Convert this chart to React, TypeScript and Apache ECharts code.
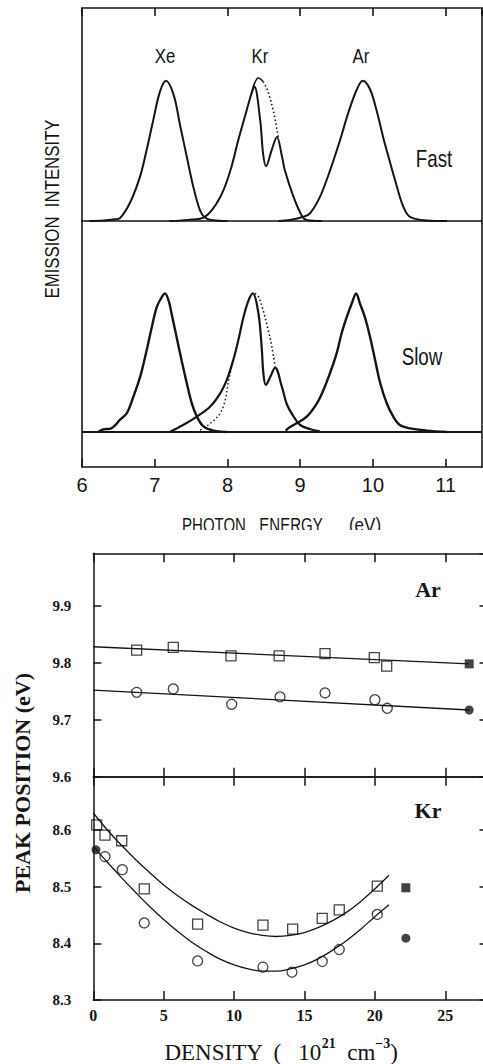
import React, { useEffect, useRef } from 'react';
import * as echarts from 'echarts';

// ---------------- Top panel data: emission spectra (photon energy eV, normalised intensity) ----------------
const energyRange = [6, 11.5];

const fastXe = [[6.1, 0], [6.3, 0.004], [6.45, 0.012], [6.52, 0.02], [6.66, 0.13], [6.8, 0.32], [6.89, 0.51], [6.98, 0.72], [7.07, 0.92], [7.155, 1.0], [7.26, 0.9], [7.35, 0.68], [7.44, 0.46], [7.53, 0.245], [7.62, 0.08], [7.69, 0.025], [7.8, 0.006], [8.0, 0]];
const fastKr = [[7.2, 0], [7.45, 0.008], [7.69, 0.03], [7.9, 0.17], [8.04, 0.36], [8.15, 0.58], [8.24, 0.745], [8.33, 0.91], [8.37, 0.96], [8.45, 0.72], [8.49, 0.48], [8.53, 0.39], [8.61, 0.51], [8.68, 0.6], [8.75, 0.46], [8.79, 0.36], [8.91, 0.17], [9.02, 0.04], [9.09, 0.007], [9.3, 0]];
const fastKrEnvelopeTop = [[8.33, 0.91], [8.37, 0.98], [8.425, 1.02], [8.49, 0.995]];
const fastKrEnvelopeDotted = [[8.49, 0.995], [8.537, 0.95], [8.583, 0.88], [8.62, 0.81], [8.657, 0.72], [8.684, 0.64], [8.7, 0.6]];
const fastAr = [[8.7, 0], [8.86, 0.007], [9.044, 0.03], [9.135, 0.055], [9.27, 0.17], [9.41, 0.36], [9.55, 0.58], [9.66, 0.77], [9.78, 0.94], [9.86, 1.0], [9.96, 0.94], [10.05, 0.79], [10.14, 0.6], [10.24, 0.41], [10.33, 0.245], [10.42, 0.1], [10.51, 0.03], [10.74, 0.004], [11.02, 0]];

const slowXe = [[6.22, 0], [6.3, 0.02], [6.385, 0.022], [6.45, 0.045], [6.52, 0.086], [6.615, 0.134], [6.705, 0.25], [6.8, 0.395], [6.89, 0.585], [6.96, 0.75], [7.03, 0.895], [7.1, 0.966], [7.14, 0.99], [7.19, 0.94], [7.23, 0.85], [7.3, 0.68], [7.37, 0.51], [7.44, 0.35], [7.51, 0.205], [7.58, 0.11], [7.67, 0.04], [7.81, 0.01], [7.99, 0]];
const slowKr = [[7.21, 0.002], [7.39, 0.05], [7.58, 0.11], [7.76, 0.18], [7.9, 0.276], [7.99, 0.37], [8.08, 0.514], [8.15, 0.657], [8.22, 0.82], [8.29, 0.94], [8.35, 0.99], [8.425, 0.85], [8.47, 0.61], [8.494, 0.42], [8.527, 0.336], [8.59, 0.395], [8.655, 0.46], [8.75, 0.32], [8.815, 0.2], [8.91, 0.11], [9.0, 0.05], [9.14, 0.02], [9.27, 0.005]];
const slowKrFitLeftDotted = [[7.58, 0], [7.76, 0.06], [7.9, 0.134], [7.97, 0.23], [8.01, 0.35], [8.06, 0.47], [8.08, 0.514]];
const slowKrFitRightDotted = [[8.38, 0.99], [8.425, 0.968], [8.49, 0.871], [8.56, 0.728], [8.61, 0.61], [8.655, 0.47]];
const slowAr = [[8.8, 0.01], [8.86, 0.035], [8.95, 0.062], [9.09, 0.11], [9.23, 0.205], [9.32, 0.3], [9.41, 0.42], [9.5, 0.56], [9.57, 0.705], [9.64, 0.82], [9.71, 0.92], [9.77, 0.99], [9.82, 0.92], [9.89, 0.82], [9.96, 0.68], [10.03, 0.514], [10.1, 0.35], [10.19, 0.205], [10.28, 0.11], [10.37, 0.05], [10.51, 0.026], [10.74, 0.01], [11.02, 0]];

// ---------------- Bottom panel data: peak position (eV) vs density (10^21 cm^-3) ----------------
const densityRange = [0, 28];
const arRange = [9.6, 9.992];
const krRange = [8.3, 8.694];

const arSquareX = [3.08, 5.68, 9.78, 13.2, 16.46, 19.96, 20.84];
const arSquareY = [9.822, 9.827, 9.812, 9.812, 9.816, 9.809, 9.794];
const arCircleX = [3.08, 5.68, 9.83, 13.26, 16.46, 20.0, 20.88];
const arCircleY = [9.748, 9.754, 9.727, 9.74, 9.747, 9.735, 9.72];
const arSquareFilled = [[26.7, 9.798]];
const arCircleFilled = [[26.7, 9.717]];
const arSquareFit = [[0, 9.828], [26.7, 9.798]];
const arCircleFit = [[0, 9.752], [26.7, 9.717]];

const krSquareX = [0.24, 0.83, 2.02, 3.62, 7.41, 12.05, 14.16, 16.26, 17.47, 20.17];
const krSquareY = [8.609, 8.591, 8.581, 8.496, 8.434, 8.432, 8.425, 8.444, 8.459, 8.501];
const krCircleX = [0.83, 2.06, 3.62, 7.41, 12.05, 14.11, 16.26, 17.47, 20.17];
const krCircleY = [8.553, 8.53, 8.436, 8.369, 8.358, 8.349, 8.368, 8.389, 8.451];
const krSquareFilled = [[22.2, 8.498]];
const krCircleFilled = [[0.19, 8.565], [22.2, 8.409]];
const krSquareFit = [[0, 8.63], [1, 8.6], [2, 8.573], [3, 8.548], [4, 8.525], [5, 8.503], [6, 8.484], [7, 8.467], [8, 8.452], [9, 8.438], [10, 8.427], [11, 8.419], [12, 8.414], [13, 8.412], [14, 8.414], [15, 8.419], [16, 8.428], [17, 8.44], [18, 8.455], [19, 8.474], [20, 8.496], [21, 8.52]];
const krCircleFit = [[0, 8.571], [1, 8.543], [2, 8.516], [3, 8.49], [4, 8.465], [5, 8.442], [6, 8.421], [7, 8.402], [8, 8.386], [9, 8.372], [10, 8.362], [11, 8.355], [12, 8.351], [13, 8.351], [14, 8.355], [15, 8.362], [16, 8.373], [17, 8.388], [18, 8.405], [19, 8.425], [20, 8.447], [21, 8.468]];

// ---------------- styling ----------------
const INK = '#151515';
const SANS = "'Liberation Sans','DejaVu Sans',sans-serif";
const SERIF = "'Liberation Serif','DejaVu Serif',serif";

const pairs = (xs: number[], ys: number[]) => xs.map((x, i) => [x, ys[i]]);

function curve(data: number[][], xi: number, yi: number, width = 2, type: any = 'solid') {
  return {
    type: 'line', data, xAxisIndex: xi, yAxisIndex: yi, symbol: 'none', showSymbol: false,
    smooth: 0.35, silent: true, z: 3,
    lineStyle: { color: INK, width, type },
  };
}

function frameAxis(extra: any) {
  return {
    type: 'value',
    axisLine: { show: true, onZero: false, lineStyle: { color: INK, width: 1.6 } },
    axisTick: { show: false },
    axisLabel: { show: false },
    splitLine: { show: false },
    ...extra,
  };
}

const topTick = { show: true, inside: true, length: 8, lineStyle: { color: INK, width: 1.6 } };

function narrowText(text: string, x: number, y: number, size: number, sx: number, extra: any = {}) {
  return {
    type: 'text', x, y, scaleX: sx, ...extra,
    style: { text, fontSize: size, fontFamily: SANS, fill: INK, align: 'center', verticalAlign: 'middle', ...(extra.style || {}) },
  };
}

const topOption: any = {
  animation: false,
  backgroundColor: '#fff',
  grid: [
    { left: 82, top: 8, width: 400, height: 213 },
    { left: 82, top: 221, width: 400, height: 246 },
  ],
  xAxis: [
    frameAxis({ gridIndex: 0, min: energyRange[0], max: energyRange[1], interval: 1, position: 'top', axisTick: topTick }),
    frameAxis({ gridIndex: 0, min: energyRange[0], max: energyRange[1], interval: 1, position: 'bottom' }),
    frameAxis({
      gridIndex: 1, min: energyRange[0], max: energyRange[1], interval: 1, position: 'bottom', axisTick: topTick,
      axisLabel: { show: true, margin: 8, fontSize: 20, fontFamily: SANS, color: INK, showMaxLabel: false },
    }),
  ],
  yAxis: [
    frameAxis({ gridIndex: 0, min: 0, max: 1.52, position: 'left' }),
    frameAxis({ gridIndex: 0, min: 0, max: 1.52, position: 'right' }),
    frameAxis({ gridIndex: 1, min: -0.25, max: 1.507, position: 'left' }),
    frameAxis({ gridIndex: 1, min: -0.25, max: 1.507, position: 'right' }),
  ],
  series: [
    curve(fastXe, 1, 0),
    curve(fastKr, 1, 0),
    curve(fastKrEnvelopeTop, 1, 0, 1.6),
    curve(fastKrEnvelopeDotted, 1, 0, 1.6, [1.5, 2.5]),
    curve(fastAr, 1, 0),
    {
      ...curve(slowXe, 2, 2, 2.4),
      markLine: {
        silent: true, symbol: 'none', label: { show: false },
        lineStyle: { color: INK, width: 1.8, type: 'solid' },
        data: [{ yAxis: 0 }],
      },
    },
    curve(slowKr, 2, 2, 2.2),
    curve(slowKrFitLeftDotted, 2, 2, 1.4, [1.5, 2.5]),
    curve(slowKrFitRightDotted, 2, 2, 1.6, [1.5, 2.5]),
    curve(slowAr, 2, 2, 2.4),
  ],
  graphic: [
    narrowText('Xe', 165, 56, 21, 0.8),
    narrowText('Kr', 260, 56, 21, 0.8),
    narrowText('Ar', 361, 56, 21, 0.8),
    narrowText('Fast', 434, 159, 24, 0.78),
    narrowText('Slow', 422, 357, 24, 0.78),
    narrowText('EMISSION  INTENSITY', 52, 209, 21, 0.8, { rotation: Math.PI / 2 }),
    narrowText('PHOTON', 214, 515, 20, 0.75, { style: { verticalAlign: 'top' } }),
    narrowText('ENERGY', 291, 515, 20, 0.75, { style: { verticalAlign: 'top' } }),
    narrowText('(eV)', 365, 515, 20, 0.85, { style: { verticalAlign: 'top' } }),
  ],
};

const botTick = { show: true, inside: true, length: 9, lineStyle: { color: INK, width: 1.5 } };
function botFrame(extra: any) {
  return {
    type: 'value',
    axisLine: { show: true, onZero: false, lineStyle: { color: INK, width: 1.5 } },
    axisTick: botTick,
    axisLabel: { show: false },
    splitLine: { show: false },
    ...extra,
  };
}
const yLabel = {
  show: true, margin: 22, fontSize: 15, fontWeight: 'bold', fontFamily: SERIF, color: INK,
  showMaxLabel: false, showMinLabel: true, formatter: (v: number) => v.toFixed(1),
};

function markers(data: number[][], xi: number, yi: number, symbol: string, filled: boolean) {
  return {
    type: 'scatter', data, xAxisIndex: xi, yAxisIndex: yi, symbol, symbolSize: filled ? 9 : 10, silent: true, z: 4,
    itemStyle: filled ? { color: INK } : { color: 'rgba(0,0,0,0)', borderColor: INK, borderWidth: 1.3 },
  };
}
function fit(data: number[][], xi: number, yi: number) {
  return {
    type: 'line', data, xAxisIndex: xi, yAxisIndex: yi, symbol: 'none', showSymbol: false, smooth: 0.4,
    silent: true, z: 3, lineStyle: { color: INK, width: 1.3 },
  };
}

const botOption: any = {
  animation: false,
  backgroundColor: '#fff',
  grid: [
    { left: 93.3, top: 23.3, width: 394.2, height: 223.4 },
    { left: 93.3, top: 246.7, width: 394.2, height: 223.3 },
  ],
  xAxis: [
    botFrame({ gridIndex: 0, min: densityRange[0], max: densityRange[1], interval: 5, position: 'top' }),
    botFrame({ gridIndex: 0, min: densityRange[0], max: densityRange[1], interval: 5, position: 'bottom' }),
    botFrame({ gridIndex: 1, min: densityRange[0], max: densityRange[1], interval: 5, position: 'top' }),
    botFrame({
      gridIndex: 1, min: densityRange[0], max: densityRange[1], interval: 5, position: 'bottom',
      axisLabel: { show: true, margin: 7, fontSize: 16, fontWeight: 'bold', fontFamily: SERIF, color: INK, showMaxLabel: false },
    }),
  ],
  yAxis: [
    botFrame({ gridIndex: 0, min: arRange[0], max: arRange[1], interval: 0.1, position: 'left', axisLabel: yLabel, axisTick: { ...botTick, length: 8 } }),
    botFrame({ gridIndex: 0, min: arRange[0], max: arRange[1], interval: 0.1, position: 'right', axisTick: { ...botTick, length: 8 } }),
    botFrame({ gridIndex: 1, min: krRange[0], max: krRange[1], interval: 0.1, position: 'left', axisLabel: yLabel, axisTick: { ...botTick, length: 8 } }),
    botFrame({ gridIndex: 1, min: krRange[0], max: krRange[1], interval: 0.1, position: 'right', axisTick: { ...botTick, length: 8 } }),
  ],
  series: [
    fit(arSquareFit, 1, 0),
    fit(arCircleFit, 1, 0),
    markers(pairs(arSquareX, arSquareY), 1, 0, 'rect', false),
    markers(pairs(arCircleX, arCircleY), 1, 0, 'circle', false),
    markers(arSquareFilled, 1, 0, 'rect', true),
    markers(arCircleFilled, 1, 0, 'circle', true),
    fit(krSquareFit, 3, 2),
    fit(krCircleFit, 3, 2),
    markers(pairs(krSquareX, krSquareY), 3, 2, 'rect', false),
    markers(pairs(krCircleX, krCircleY), 3, 2, 'circle', false),
    markers(krSquareFilled, 3, 2, 'rect', true),
    markers(krCircleFilled, 3, 2, 'circle', true),
  ],
  graphic: [
    { type: 'text', x: 428, y: 59, style: { text: 'Ar', fontSize: 22, fontWeight: 'bold', fontFamily: SERIF, fill: INK, align: 'center', verticalAlign: 'middle' } },
    { type: 'text', x: 428, y: 280, style: { text: 'Kr', fontSize: 22, fontWeight: 'bold', fontFamily: SERIF, fill: INK, align: 'center', verticalAlign: 'middle' } },
    {
      type: 'text', x: 22, y: 253, rotation: Math.PI / 2,
      style: { text: 'PEAK POSITION (eV)', fontSize: 22, fontWeight: 'bold', fontFamily: SERIF, fill: INK, align: 'center', verticalAlign: 'middle' },
    },
    {
      type: 'text', x: 281, y: 522,
      style: {
        text: '{b|DENSITY  (   10}{s|21}{b|  cm}{s|−3}{b|)}', align: 'center', verticalAlign: 'middle', fill: INK,
        rich: {
          b: { fontSize: 23, fontFamily: SERIF, fill: INK, lineHeight: 32 },
          s: { fontSize: 14, fontFamily: SERIF, fontWeight: 'bold', fill: INK, lineHeight: 18, verticalAlign: 'top' },
        },
      },
    },
  ],
};

export default function App() {
  const topRef = useRef<HTMLDivElement>(null);
  const botRef = useRef<HTMLDivElement>(null);
  useEffect(() => {
    const top = echarts.init(topRef.current!, undefined, { renderer: 'svg' });
    top.setOption(topOption);
    const bot = echarts.init(botRef.current!, undefined, { renderer: 'svg' });
    bot.setOption(botOption);
    return () => {
      top.dispose();
      bot.dispose();
    };
  }, []);
  return (
    <div style={{ position: 'fixed', left: 0, top: 0, width: 483, height: 1064, overflow: 'hidden', background: '#fff' }}>
      <div ref={topRef} style={{ position: 'absolute', left: 0, top: 0, width: 483, height: 530 }} />
      <div ref={botRef} style={{ position: 'absolute', left: 0, top: 530, width: 492, height: 534 }} />
    </div>
  );
}
